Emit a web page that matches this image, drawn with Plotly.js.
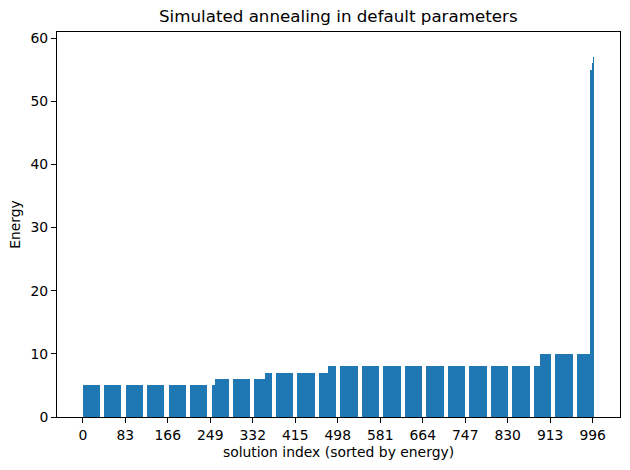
<!DOCTYPE html>
<html>
<head>
<meta charset="utf-8">
<script src="https://cdn.plot.ly/plotly-3.0.1.min.js"></script>
<style>
  html, body { margin: 0; padding: 0; background: #fff; }
  #chart { width: 630px; height: 470px; }
  /* snap the very thin bars to whole pixels, like the raster original */
  #chart .bars path { shape-rendering: crispEdges; }
</style>
</head>
<body>
<div id="chart"></div>
<script>
// energy levels of the sorted solutions and how many solutions sit at each level
const energyLevels = [5, 6, 7, 8, 10, 55, 56, 57, 58];
const levelCounts = [258, 98, 123, 415, 97, 4, 3, 1, 1];
const xTicks = [0, 83, 166, 249, 332, 415, 498, 581, 664, 747, 830, 913, 996];

// expand the runs into one energy per solution
const energies = [];
energyLevels.forEach((e, i) => {
    for (let k = 0; k < levelCounts[i]; k++) energies.push(e);
});
const idx = energies.map((_, i) => i);

const data = [
    {
        x: idx,
        y: energies,
        type: 'bar',
        marker: {color: '#1f77b4', line: {width: 0}},
        hoverinfo: 'skip'
    }
];

const axisFont = {family: 'DejaVu Sans', size: 13.9, color: '#000'};

const layout = {
    width: 630,
    height: 470,
    autosize: false,
    bargap: 0.2,
    showlegend: false,
    paper_bgcolor: '#fff',
    plot_bgcolor: '#fff',
    font: {family: 'DejaVu Sans', color: '#000'},
    title: {
        text: 'Simulated annealing in default parameters',
        font: {family: 'DejaVu Sans', size: 16.7, color: '#000'},
        x: 0.537,
        xanchor: 'center',
        y: 0.966,
        yanchor: 'middle'
    },
    margin: {l: 57, r: 10, t: 32, b: 53, pad: 0},
    xaxis: {
        range: [-50.4, 1049.4],
        tickmode: 'array',
        tickvals: xTicks,
        ticktext: xTicks.map(String),
        ticks: 'outside',
        ticklen: 5,
        tickwidth: 1,
        tickcolor: '#000',
        tickfont: axisFont,
        showgrid: false,
        zeroline: false,
        showline: true,
        mirror: true,
        linecolor: '#000',
        linewidth: 1,
        automargin: false,
        title: {text: 'solution index (sorted by energy)', font: axisFont, standoff: 5}
    },
    yaxis: {
        range: [0, 60.95],
        tickmode: 'linear',
        tick0: 0,
        dtick: 10,
        ticks: 'outside',
        ticklen: 5,
        tickwidth: 1,
        tickcolor: '#000',
        tickfont: axisFont,
        showgrid: false,
        zeroline: false,
        showline: true,
        mirror: true,
        linecolor: '#000',
        linewidth: 1,
        automargin: false,
        title: {text: 'Energy', font: axisFont, standoff: 6}
    }
};

Plotly.newPlot('chart', data, layout, {staticPlot: true, displayModeBar: false});
</script>
</body>
</html>
